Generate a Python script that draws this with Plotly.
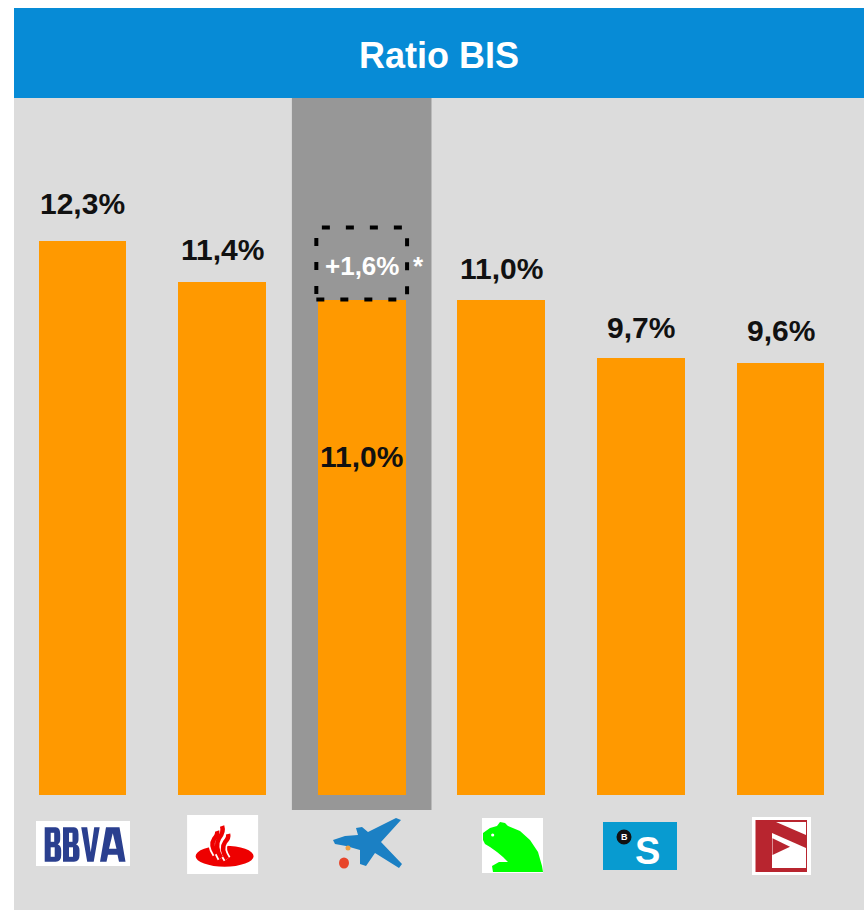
import re
import plotly.graph_objects as go

# ---------------- data ----------------
banks = ["BBVA", "Santander", "CaixaBank", "Popular", "Sabadell", "Bankinter"]
ratio_bis = [12.3, 11.4, 11.0, 11.0, 9.7, 9.6]
extra_bis = [None, None, 1.6, None, None, None]   # additional (pro-forma) points
highlight_bank = "CaixaBank"
title_text = "Ratio BIS"

# ---------------- style ----------------
FONT = "Liberation Sans, Arial, Helvetica, sans-serif"
ORANGE = "#ff9900"
PANEL = "#dcdcdc"
HILITE = "#979797"
BLUE = "#078bd6"
W, H = 864, 910
BAR_W = 0.63
PX_PER_UNIT = 45.04        # vertical scale
ZERO_PX = 795              # pixel row of value 0
STEP_PX = 139.6            # pixel distance between categories
FIRST_PX = 82.5            # pixel x of first category
LOGO_ROW = 845             # pixel row of logo centres
label_shift = [38, 32, 0, 31, 31, 32]

def fmt(v):
    return f"{v:.1f}".replace(".", ",") + "%"

def py(px):  # screen pixel row -> paper y
    return 1 - px / H

fig = go.Figure()
fig.add_trace(go.Bar(
    x=banks, y=ratio_bis, width=BAR_W,
    marker=dict(color=ORANGE, line=dict(width=0)),
    hoverinfo="skip", showlegend=False,
))

shapes = []
annotations = []

# panel + title bar
shapes.append(dict(type="rect", xref="paper", yref="paper", layer="below",
                   x0=14 / W, x1=1, y0=0, y1=py(98),
                   fillcolor=PANEL, line=dict(width=0)))
shapes.append(dict(type="rect", xref="paper", yref="paper", layer="below",
                   x0=14 / W, x1=1, y0=py(98), y1=py(8),
                   fillcolor=BLUE, line=dict(width=0)))
annotations.append(dict(text="<b>" + title_text + "</b>", xref="paper", yref="paper",
                        x=(14 + W) / 2 / W, y=py(55), xanchor="center", yanchor="middle",
                        showarrow=False, font=dict(family=FONT, size=36, color="white")))

# highlight column
hi = banks.index(highlight_bank)
shapes.append(dict(type="rect", xref="x", yref="paper", layer="below",
                   x0=hi - 0.5, x1=hi + 0.5, y0=py(810), y1=py(98),
                   fillcolor=HILITE, line=dict(width=0)))

# value labels
for i, (b, v) in enumerate(zip(banks, ratio_bis)):
    shift = -157 if b == highlight_bank else label_shift[i]
    annotations.append(dict(text="<b>" + fmt(v) + "</b>", x=b, y=v, xref="x", yref="y",
                            yshift=shift, showarrow=False, yanchor="middle",
                            font=dict(family=FONT, size=30, color="#111111")))

# extra (dashed) segment
for i, (b, v, e) in enumerate(zip(banks, ratio_bis, extra_bis)):
    if e is None:
        continue
    shapes.append(dict(type="rect", xref="x", yref="y", layer="above",
                       x0=i - 0.325, x1=i + 0.325, y0=v, y1=v + e,
                       fillcolor="rgba(0,0,0,0)",
                       line=dict(color="black", width=4, dash="8px,16px")))
    annotations.append(dict(text="<b>+" + f"{e:.1f}".replace(".", ",") + "%</b>",
                            x=b, y=v + e / 2, xref="x", yref="y", yshift=-2,
                            showarrow=False, yanchor="middle",
                            font=dict(family=FONT, size=26, color="white")))
    annotations.append(dict(text="<b>*</b>", x=b, y=v + e / 2, xref="x", yref="y",
                            xshift=49, yshift=-2, xanchor="left", yanchor="middle",
                            showarrow=False,
                            font=dict(family=FONT, size=26, color="white")))

# ---------------- logos (decorations anchored to categories) ----------------
# path strings are written in pixels, y downward, relative to (category centre, logo row)
def tp(s, ox=0.0, oy=0.0):
    return re.sub(r"(-?[\d.]+),(-?[\d.]+)",
                  lambda m: f"{float(m.group(1)) + ox:.2f},{-(float(m.group(2)) + oy):.2f}", s)

def poly(pts):
    return "M " + " L ".join(f"{x},{y}" for x, y in pts) + " Z"

def logo_shape(i, **kw):
    d = dict(xref="x", yref="paper", xsizemode="pixel", ysizemode="pixel",
             xanchor=i, yanchor=py(LOGO_ROW), layer="above")
    d.update(kw)
    return d

def logo_rect(i, x0, x1, y0, y1, color):
    return logo_shape(i, type="rect", x0=x0, x1=x1, y0=-y0, y1=-y1,
                      fillcolor=color, line=dict(width=0))

def logo_circle(i, cx, cy, rx, ry, color):
    return logo_shape(i, type="circle", x0=cx - rx, x1=cx + rx, y0=-(cy - ry), y1=-(cy + ry),
                      fillcolor=color, line=dict(width=0))

def logo_fill(i, path, color, ox=0.0, oy=0.0):
    return logo_shape(i, type="path", path=tp(path, ox, oy), fillcolor=color,
                      line=dict(width=0))

def logo_stroke(i, path, color, width):
    return logo_shape(i, type="path", path=tp(path), line=dict(color=color, width=width))

# BBVA
BB = "#2a3f8f"
shapes.append(logo_rect(0, -46.5, 47.5, -24, 21, "white"))
B_OUT = "M 0,0 L 11,0 Q 15.5,0 15.5,7 L 15.5,12 Q 15.5,16 13,17 Q 16.5,18.5 16.5,23 L 16.5,28 Q 16.5,34.5 11,34.5 L 0,34.5 Z"
B_H1 = "M 6,5.5 L 9.5,5.5 L 9.5,14.5 L 6,14.5 Z"
B_H2 = "M 6,20 L 10,20 L 10,29.5 L 6,29.5 Z"
V_P = poly([(0, 0), (6, 0), (9.5, 25), (13, 0), (18.5, 0), (12.5, 34.5), (6, 34.5)])
A_P = poly([(6, 0), (19.5, 0), (25.5, 34.5), (19, 34.5), (17.5, 27.5), (8, 27.5), (6.5, 34.5), (0, 34.5)])
A_H = poly([(9, 21.5), (16.5, 21.5), (12.75, 6)])
OY = -17.7
for ox in (-37.8, -19.5):
    shapes.append(logo_fill(0, B_OUT, BB, ox, OY))
    shapes.append(logo_fill(0, B_H1, "white", ox, OY))
    shapes.append(logo_fill(0, B_H2, "white", ox, OY))
shapes.append(logo_fill(0, V_P, BB, -1.3, OY))
shapes.append(logo_fill(0, A_P, BB, 17.5, OY))
shapes.append(logo_fill(0, A_H, "white", 17.5, OY))

# Santander
SR = "#ee0000"
shapes.append(logo_rect(1, -35, 36, -30, 29, "white"))
shapes.append(logo_circle(1, 2.5, 11.2, 29, 10.5, SR))
strands = ["M -6,9 Q -12,0 -8,-6 Q -4,-11 -5,-14",
           "M -1,13 Q -8,2 -3,-7 Q 2,-13 0,-19",
           "M 5,14 Q -2,4 3,-3 Q 7,-7 6,-11"]
for s in strands:
    shapes.append(logo_stroke(1, s, "white", 8))
for s in strands:
    shapes.append(logo_stroke(1, s, SR, 4.5))

# CaixaBank
star = [(-28.7, -5), (-16.7, -9), (-3.7, -10), (-5.7, -17), (0.3, -18), (6.3, -13),
        (34.3, -27), (39.3, -25), (19.3, -3), (40.3, 19), (37.3, 23), (13.3, 8),
        (4.3, 21), (-1.7, 19), (-1.7, 5), (-15.7, 1), (-26.7, -1)]
shapes.append(logo_fill(2, poly(star), "#1b80c4"))
shapes.append(logo_circle(2, -13.7, 3, 2.5, 2.5, "#f0a040"))
shapes.append(logo_circle(2, -17.7, 18, 5, 5.5, "#e8452a"))

# Popular
shapes.append(logo_rect(3, -19.3, 41.7, -27, 28, "white"))
bear = [(-18.3, -12), (-11.3, -17), (-4.3, -19), (-1.3, -23), (3.7, -22), (6.7, -19),
        (18.7, -14), (28.7, -5), (36.7, 7), (40.7, 21), (41.7, 27), (-8.3, 27), (-9.3, 21),
        (-2.3, 17), (6.7, 17), (1.7, 12), (-4.3, 7), (-11.3, 2), (-16.3, -1), (-18.3, -5)]
shapes.append(logo_fill(3, poly(bear), "#00ff00"))
shapes.append(logo_circle(3, -8.6, -10, 1.6, 1.6, "white"))

# Sabadell
shapes.append(logo_rect(4, -37.9, 36.1, -23, 25, "#089bd0"))
shapes.append(logo_circle(4, -16.9, -8, 7.5, 7.5, "#111111"))
annotations.append(dict(text="<b>B</b>", x=banks[4], xref="x", yref="paper", y=py(837),
                        xshift=-16.9, showarrow=False, yanchor="middle",
                        font=dict(family=FONT, size=9, color="white")))
annotations.append(dict(text="<b>S</b>", x=banks[4], xref="x", yref="paper", y=py(851),
                        xshift=7, showarrow=False, yanchor="middle",
                        font=dict(family=FONT, size=38, color="white")))

# Bankinter
BK = "#b8252f"
shapes.append(logo_rect(5, -28.5, 30.5, -28, 30, "white"))
shapes.append(logo_rect(5, -25, 26.5, -25, 27, BK))
shapes.append(logo_fill(5, poly([(-4.5, -23), (25.5, -23), (25.5, -10)]), "white"))
shapes.append(logo_fill(5, poly([(-8.5, -12), (25.5, 3), (25.5, 23), (-8.5, 23)]), "white"))
shapes.append(logo_fill(5, poly([(-8, -6.7), (9.5, 1.7), (-8, 10)]), BK))

# ---------------- layout ----------------
x_range = [-FIRST_PX / STEP_PX, (W - FIRST_PX) / STEP_PX]
y_range = [-(H - ZERO_PX) / PX_PER_UNIT, ZERO_PX / PX_PER_UNIT]

fig.update_layout(
    width=W, height=H,
    margin=dict(l=0, r=0, t=0, b=0, pad=0),
    paper_bgcolor="white", plot_bgcolor="white",
    xaxis=dict(range=x_range, showgrid=False, zeroline=False, showticklabels=False,
               showline=False, ticks="", fixedrange=True),
    yaxis=dict(range=y_range, showgrid=False, zeroline=False, showticklabels=False,
               showline=False, ticks="", fixedrange=True),
    shapes=shapes, annotations=annotations,
    bargap=0, showlegend=False,
    font=dict(family=FONT),
)

fig.write_html("out.html", config={"displayModeBar": False},
               post_script="document.body.style.margin='0';document.body.style.overflow='hidden';")
